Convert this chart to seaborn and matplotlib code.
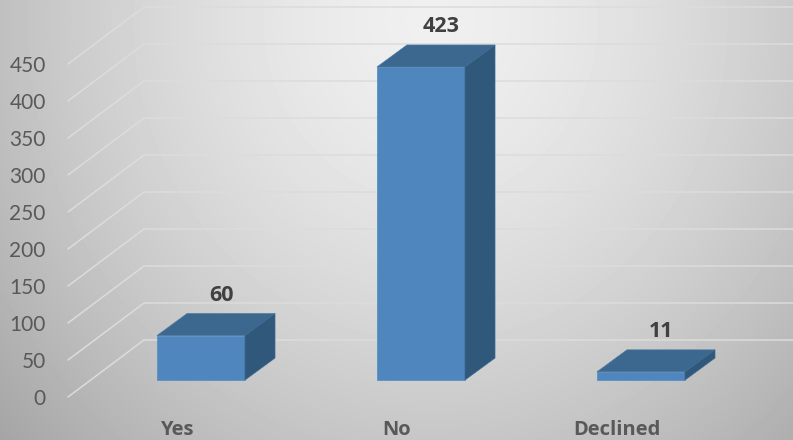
import numpy as np
import pandas as pd
import seaborn as sns
import matplotlib.pyplot as plt
from matplotlib.patches import Polygon
from matplotlib.transforms import Affine2D

categories = ['Yes', 'No', 'Declined']
values = [60, 423, 11]
y_ticks = [0, 50, 100, 150, 200, 250, 300, 350, 400, 450]

FRONT_COLOR = '#4e86bd'
TOP_COLOR = '#3c6890'
SIDE_COLOR = '#2f587a'
GRID_COLOR = '#dcdcdc'

# pixel scale of the chart: one category = 220 px, one unit = 0.74 px
PX_X = 220.0
PX_Y = 0.74

sns.set_theme(style='white')
plt.rcParams['font.family'] = ['Lato', 'DejaVu Sans']

fig = plt.figure(figsize=(7.93, 4.4), dpi=100)
ax = fig.add_axes([0, 0, 1, 1])
ax.patch.set_visible(False)

# radial grey background
yy, xx = np.mgrid[0:440, 0:793]
dist = np.sqrt(((xx - 430) / 520.0) ** 2 + ((yy - 20) / 560.0) ** 2)
shade = np.clip(0.94 - 0.25 * dist ** 1.5, 0, 1)
fig.figimage(shade, cmap='gray', vmin=0, vmax=1, origin='upper', zorder=-1)

df = pd.DataFrame({'answer': categories, 'count': values})
sns.barplot(data=df, x='answer', y='count', color=FRONT_COLOR, saturation=1,
            width=0.4, ax=ax, zorder=3)

ax.set_xlim(-0.5 - 91 / PX_X, -0.5 + (793 - 91) / PX_X)
ax.set_ylim(-60 / PX_Y, 380 / PX_Y)

# floor depth: bars stand 30% of the way into the floor
front_dx, front_dy = -23 / PX_X, -17 / PX_Y
back_dx, back_dy = 53 / PX_X, 40 / PX_Y
bar_dx, bar_dy = 30 / PX_X, 22 / PX_Y

x_left = -0.5
for v in y_ticks:
    ax.plot([x_left + front_dx, x_left + back_dx, 5],
            [v + front_dy, v + back_dy, v + back_dy],
            color=GRID_COLOR, lw=1.1, solid_joinstyle='miter', zorder=1)

for i, bar in enumerate(ax.patches):
    x0, x1 = bar.get_x(), bar.get_x() + bar.get_width()
    h = bar.get_height()
    bar.set_edgecolor('#5a90c4')
    bar.set_linewidth(0.6)
    top = [(x0, h), (x1, h), (x1 + bar_dx, h + bar_dy), (x0 + bar_dx, h + bar_dy)]
    side = [(x1, 0), (x1 + bar_dx, bar_dy), (x1 + bar_dx, h + bar_dy), (x1, h)]
    ax.add_patch(Polygon(top, closed=True, fc=TOP_COLOR, ec='#4a77a0', lw=0.5, zorder=3))
    ax.add_patch(Polygon(side, closed=True, fc=SIDE_COLOR, ec='#3c6890', lw=0.5, zorder=3))
    ax.text(i + 20 / PX_X, h + bar_dy + 18.5 / PX_Y, str(values[i]), ha='center', va='center',
            fontsize=15.5, fontweight='bold', family='Open Sans', color='#404040')

# axis labels sit on the front edge of the floor
ax.set_yticks(y_ticks)
ax.set_yticklabels([str(v) for v in y_ticks])
ax.tick_params(axis='y', length=0, pad=-33, labelsize=15, labelcolor='#595959')
for label in ax.get_yticklabels():
    label.set_transform(label.get_transform() + Affine2D().translate(0, -17))

ax.set_xticks(range(len(categories)))
ax.set_xticklabels(categories)
ax.tick_params(axis='x', length=0, pad=-14.5, labelsize=14.5, labelcolor='#595959')
for label in ax.get_xticklabels():
    label.set_fontweight('bold')
    label.set_family('Open Sans')
    label.set_transform(label.get_transform() + Affine2D().translate(-24, 0))

ax.set_xlabel('')
ax.set_ylabel('')
sns.despine(ax=ax, left=True, bottom=True)

fig.savefig('out.png', dpi=100)
plt.close(fig)
